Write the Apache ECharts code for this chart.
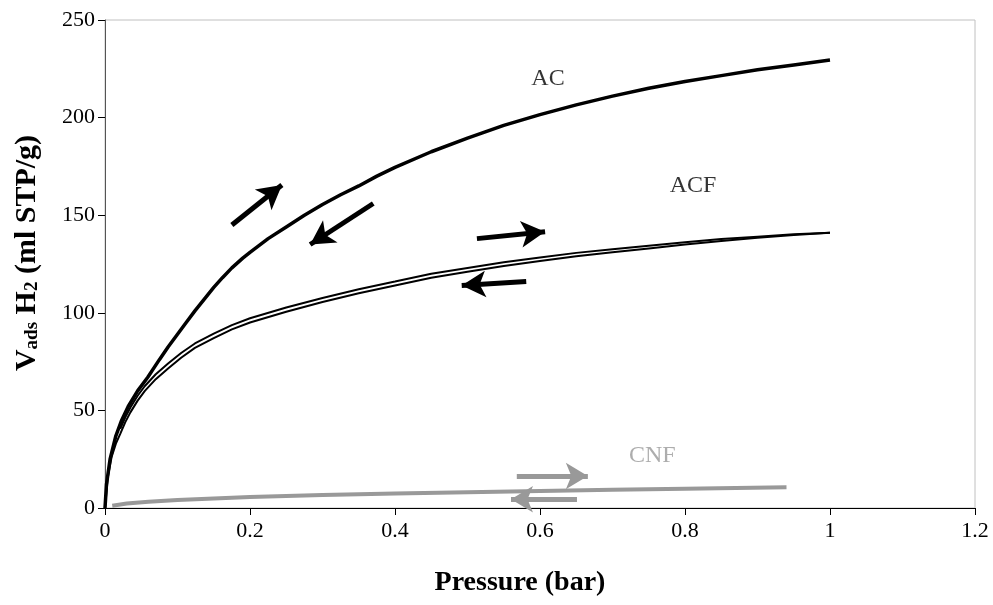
<!DOCTYPE html>
<html>
<head>
<meta charset="utf-8">
<script src="https://cdn.jsdelivr.net/npm/echarts@6/dist/echarts.min.js"></script>
<style>
  html, body { margin: 0; padding: 0; background: #fff; }
  #chart { width: 993px; height: 605px; }
</style>
</head>
<body>
<div id="chart"></div>
<script>
// isotherm data, pressure (bar) vs V ads (ml STP/g)
var acPoints = [[0,0],[0.002,12],[0.007,25],[0.015,37],[0.023,45],[0.032,52],[0.045,60],[0.059,67],[0.075,76],[0.087,82.5],[0.1,89],[0.112,95],[0.124,101],[0.137,107],[0.15,113],[0.162,118],[0.175,123],[0.19,128],[0.2,131],[0.225,138],[0.25,144],[0.275,150],[0.3,155.5],[0.325,160.5],[0.35,165],[0.375,170],[0.4,174.5],[0.45,182.5],[0.5,189.5],[0.55,196],[0.6,201.5],[0.65,206.5],[0.7,211],[0.75,215],[0.8,218.5],[0.85,221.5],[0.9,224.5],[0.95,227],[1.0,229.5]];
var acfAds = [[0,0],[0.004,16],[0.009,26],[0.015,33],[0.021,38],[0.028,44],[0.035,49],[0.045,55],[0.055,60],[0.07,66],[0.087,71.5],[0.105,77],[0.124,82],[0.15,87],[0.175,91.5],[0.2,95],[0.25,100.5],[0.3,105.5],[0.35,110],[0.4,114],[0.45,118],[0.5,121],[0.55,124],[0.6,126.5],[0.65,129],[0.7,131],[0.75,133],[0.8,135],[0.85,136.8],[0.9,138.4],[0.95,139.8],[1.0,141]];
var acfDes = [[0.021,40.5],[0.028,46.5],[0.035,51.5],[0.045,57.5],[0.055,62.5],[0.07,68.5],[0.087,74],[0.105,79.4],[0.124,84.3],[0.15,89.3],[0.175,93.7],[0.2,97.2],[0.25,102.7],[0.3,107.6],[0.35,112.1],[0.4,116],[0.45,120],[0.5,123],[0.55,125.9],[0.6,128.3],[0.65,130.7],[0.7,132.6],[0.75,134.4],[0.8,136.2],[0.85,137.8],[0.9,139],[0.95,140.2],[1.0,141]];
var cnfPoints = [[0.01,1.2],[0.03,2.3],[0.06,3.2],[0.1,4.1],[0.15,4.9],[0.2,5.6],[0.3,6.6],[0.4,7.4],[0.5,8.1],[0.6,8.7],[0.7,9.3],[0.8,9.9],[0.94,10.6]];

var xTicks = [0, 0.2, 0.4, 0.6, 0.8, 1, 1.2];
var yTicks = [0, 50, 100, 150, 200, 250];

// annotation arrows [from, to] in data units
var blackArrows = [
  [[0.175, 145], [0.244, 165.5]],
  [[0.37, 156], [0.283, 135]],
  [[0.513, 138], [0.607, 141.5]],
  [[0.581, 116], [0.492, 114]]
];
var grayArrows = [
  [[0.568, 16.4], [0.666, 16.4]],
  [[0.651, 4.5], [0.56, 4.5]]
];
var curveLabels = [
  { name: 'AC', value: [0.611, 220], color: '#000' },
  { name: 'ACF', value: [0.811, 165], color: '#000' },
  { name: 'CNF', value: [0.755, 27], color: '#999' }
];

var myChart = echarts.init(document.getElementById('chart'));
var serif = 'Liberation Serif';

function arrowLines(list) {
  return list.map(function (a) {
    return [{ coord: a[0] }, { coord: a[1] }];
  });
}

var option = {
  backgroundColor: '#fff',
  animation: false,
  grid: {
    left: 105,
    right: 18,
    top: 20,
    bottom: 97,
    show: true,
    borderColor: '#c0c0c0',
    borderWidth: 1
  },
  xAxis: {
    type: 'value',
    min: xTicks[0],
    max: xTicks[xTicks.length - 1],
    interval: 0.2,
    name: 'Pressure (bar)',
    nameLocation: 'middle',
    nameGap: 61,
    nameTextStyle: { fontFamily: serif, fontSize: 28, fontWeight: 'bold', color: '#000', padding: [0, 40, 0, 0] },
    axisLine: { onZero: false, lineStyle: { color: '#000', width: 1 } },
    axisTick: { show: true, length: 7, lineStyle: { color: '#000' } },
    axisLabel: { fontFamily: serif, fontSize: 22, color: '#000', margin: 12 },
    splitLine: { show: false }
  },
  yAxis: {
    type: 'value',
    min: yTicks[0],
    max: yTicks[yTicks.length - 1],
    interval: 50,
    name: '{b|V}{s|ads}{b| H}{s|2}{b| (ml STP/g)}',
    nameLocation: 'middle',
    nameRotate: 90,
    nameGap: 63,
    nameTextStyle: {
      padding: [0, 0, 0, 22],
      rich: {
        b: { fontFamily: serif, fontSize: 30, fontWeight: 'bold', color: '#000', lineHeight: 34, verticalAlign: 'bottom' },
        s: { fontFamily: serif, fontSize: 19, fontWeight: 'bold', color: '#000', lineHeight: 24, verticalAlign: 'bottom', padding: [11, 0, 0, 0] }
      }
    },
    axisLine: { show: true, lineStyle: { color: '#555', width: 1 } },
    axisTick: { show: true, length: 7, lineStyle: { color: '#000' } },
    axisLabel: { fontFamily: serif, fontSize: 22, color: '#000', margin: 10 },
    splitLine: { show: false }
  },
  series: [
    {
      name: 'AC', type: 'line', data: acPoints,
      showSymbol: false, smooth: false,
      lineStyle: { color: '#000', width: 3.5 },
      markLine: {
        silent: true, symbol: ['none', 'arrow'], symbolSize: [20, 24],
        label: { show: false },
        lineStyle: { color: '#000', width: 5, type: 'solid' },
        data: arrowLines(blackArrows)
      }
    },
    {
      name: 'ACF ads', type: 'line', data: acfAds,
      showSymbol: false, smooth: false,
      lineStyle: { color: '#000', width: 2 }
    },
    {
      name: 'ACF des', type: 'line', data: acfDes,
      showSymbol: false, smooth: false,
      lineStyle: { color: '#000', width: 2 }
    },
    {
      name: 'CNF', type: 'line', data: cnfPoints,
      showSymbol: false, smooth: false,
      lineStyle: { color: '#999', width: 4 },
      markLine: {
        silent: true, symbol: ['none', 'arrow'], symbolSize: [20, 22],
        label: { show: false },
        lineStyle: { color: '#999', width: 5, type: 'solid' },
        data: arrowLines(grayArrows)
      }
    },
    {
      name: 'labels', type: 'scatter', symbolSize: 1,
      itemStyle: { color: 'rgba(0,0,0,0)' },
      data: curveLabels.map(function (l) {
        return {
          name: l.name, value: l.value,
          label: { show: true, position: 'inside', formatter: '{b}', fontFamily: serif, fontSize: 24, color: l.color }
        };
      })
    }
  ]
};
option && myChart.setOption(option);
</script>
</body>
</html>
